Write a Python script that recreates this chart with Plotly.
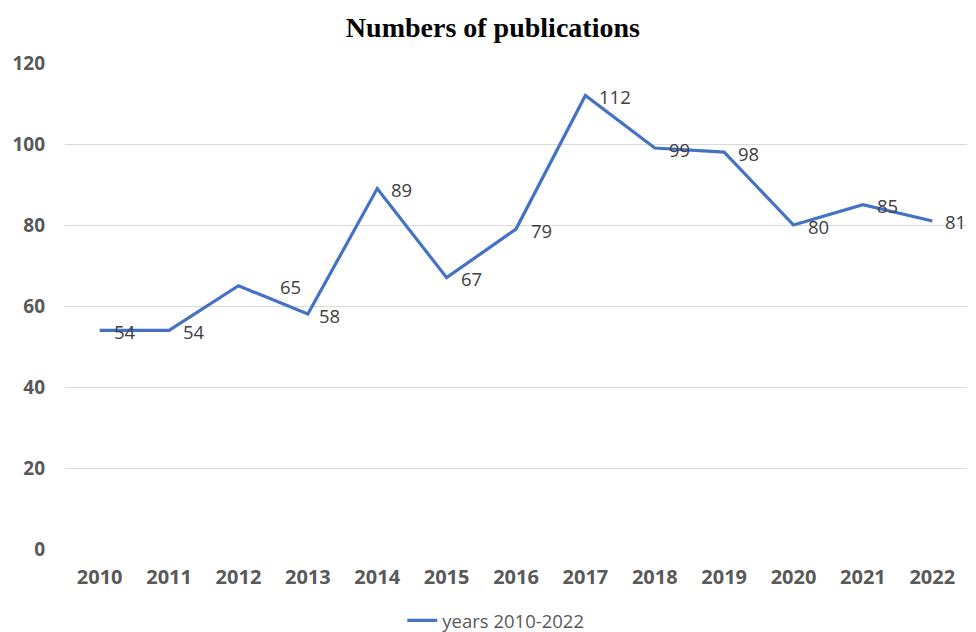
import plotly.graph_objects as go

years = [2010, 2011, 2012, 2013, 2014, 2015, 2016, 2017, 2018, 2019, 2020, 2021, 2022]
publications = [54, 54, 65, 58, 89, 67, 79, 112, 99, 98, 80, 85, 81]
series_name = "years 2010-2022"
y_ticks = [0, 20, 40, 60, 80, 100, 120]
label_xshift = [12, 12, 40, 9, 12, 12, 13, 12, 12, 12, 12, 12, 11]

fig = go.Figure()
fig.add_trace(go.Scatter(
    x=years, y=publications, mode="lines", name=series_name,
    line=dict(color="#4472C4", width=3.2),
))

for yr, v, dx in zip(years, publications, label_xshift):
    fig.add_annotation(
        x=yr, y=v, text=str(v), showarrow=False, xanchor="left", yanchor="middle",
        xshift=dx, yshift=-1,
        font=dict(family="Open Sans, Lato, sans-serif", size=18.5, color="#404040"),
    )

fig.update_layout(
    width=976, height=632,
    margin=dict(l=65, r=9, t=63, b=83, autoexpand=False),
    paper_bgcolor="white", plot_bgcolor="white",
    title=dict(text="<b>Numbers of publications</b>", x=0.505, xref="container", xanchor="center",
               y=0.957, yref="container", yanchor="middle",
               font=dict(family="Liberation Serif, serif", size=28, color="black")),
    xaxis=dict(
        range=[years[0] - 0.5, years[-1] + 0.5], tickvals=years, ticktext=[str(y) for y in years],
        showgrid=False, zeroline=False, showline=False, ticks="", ticklabelstandoff=14,
        automargin=False,
        tickfont=dict(family="Open Sans, sans-serif", size=20, color="#595959", weight="bold"),
    ),
    yaxis=dict(
        range=[0, 120], tickvals=y_ticks, showgrid=True, gridcolor="#D9D9D9", gridwidth=1,
        zeroline=False, showline=False, ticks="", ticklabelstandoff=19, automargin=False,
        tickfont=dict(family="Open Sans, sans-serif", size=19, color="#595959", weight="bold"),
    ),
    showlegend=True,
    legend=dict(orientation="h", x=0.508, xref="container", xanchor="center",
                y=-0.148, yref="paper", yanchor="middle",
                font=dict(family="Open Sans, sans-serif", size=18.5, color="#595959")),
)

fig.write_html("out.html", config={"displayModeBar": False},
               post_script="document.body.style.margin='0';document.body.style.overflow='hidden';")
